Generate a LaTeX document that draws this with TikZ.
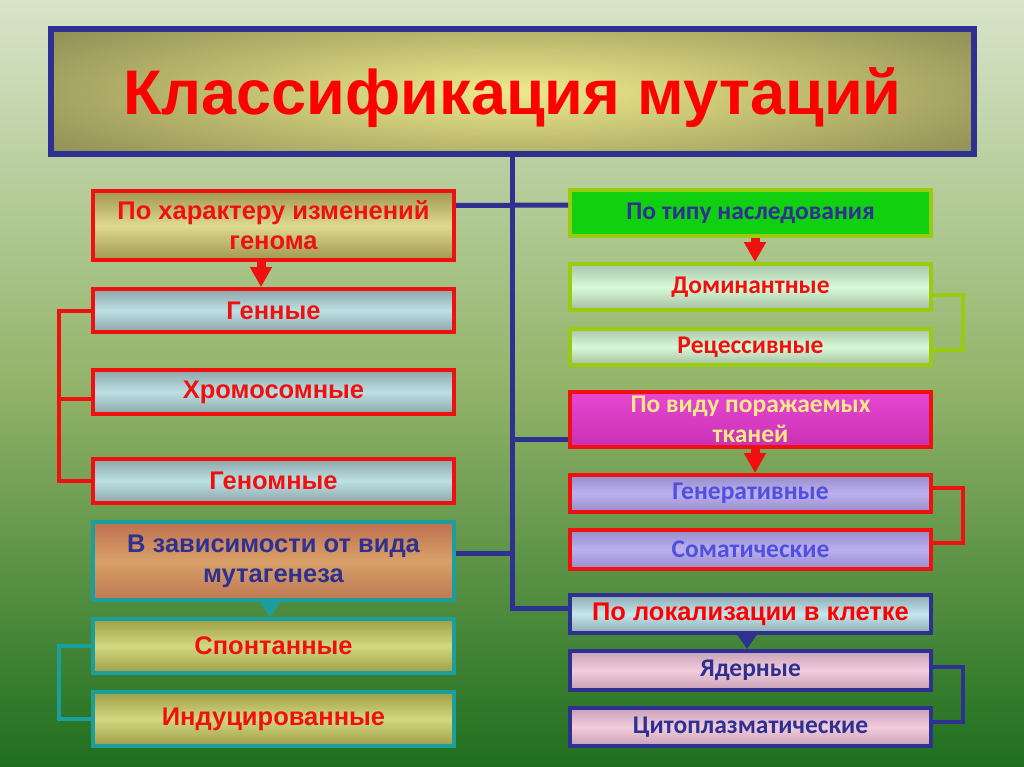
\documentclass[tikz,border=0pt]{standalone}
\usepackage{fontspec}
\usepackage{graphicx}
\usetikzlibrary{arrows.meta}
\newfontfamily\lfont{Liberation Sans}
\newfontfamily\rfont{Carlito}
\definecolor{navy}{HTML}{2E3192}
\definecolor{rd}{HTML}{F01010}
\definecolor{tred}{HTML}{FF0000}
\definecolor{teal2}{HTML}{1A9E9E}
\definecolor{lime2}{HTML}{99CC11}
\definecolor{bgtop}{HTML}{D8E4C9}
\definecolor{bgmid}{HTML}{93B46A}
\definecolor{bgbot}{HTML}{1E6E1E}
\definecolor{tO}{HTML}{727244}
\definecolor{tY}{HTML}{EEEA8C}
\definecolor{oliveE}{RGB}{160,150,84}
\definecolor{oliveM}{RGB}{222,218,142}
\definecolor{blueE}{RGB}{140,165,168}
\definecolor{blueM}{RGB}{188,224,228}
\definecolor{brownT}{RGB}{190,112,80}
\definecolor{brownM}{RGB}{216,160,104}
\definecolor{brownB}{RGB}{190,120,84}
\definecolor{yolE}{RGB}{158,158,70}
\definecolor{yolM}{RGB}{210,216,128}
\definecolor{grn}{RGB}{16,208,16}
\definecolor{pgT}{RGB}{170,196,170}
\definecolor{pgM}{RGB}{216,250,216}
\definecolor{pgB}{RGB}{165,190,160}
\definecolor{magT}{RGB}{232,70,210}
\definecolor{magB}{RGB}{200,50,180}
\definecolor{pyel}{RGB}{248,232,138}
\definecolor{lavE}{RGB}{150,140,200}
\definecolor{lavM}{RGB}{188,176,240}
\definecolor{lavT}{RGB}{80,80,224}
\definecolor{cyE}{RGB}{140,170,176}
\definecolor{cyM}{RGB}{196,230,238}
\definecolor{pkE}{RGB}{200,160,184}
\definecolor{pkM}{RGB}{242,204,218}
\tikzset{
  box/.style={draw, line width=4pt, minimum width=361pt, align=center, inner sep=0pt},
  lbox/.style={box, font=\lfont\bfseries\fontsize{25.5}{30}\selectfont},
  rbox/.style={box, font=\rfont\bfseries\fontsize{25.5}{30}\selectfont},
  band/.style n args={2}{top color=#1, bottom color=#1, middle color=#2},
  trunk/.style={navy, line width=5pt},
  brk/.style={line width=4pt, #1},
  arr/.style={line width=9pt, #1, -{Triangle[width=21pt,length=20pt]}},
  sarr/.style={line width=9pt, #1, -{Triangle[width=21pt,length=16pt]}},
}
\begin{document}
\begin{tikzpicture}[x=1pt,y=-1pt]
\useasboundingbox (0,0) rectangle (1024,767);
\fill[top color=bgtop, bottom color=bgbot, middle color=bgmid] (0,0) rectangle (1024,767);
% title
\node[draw=navy, line width=6pt, minimum width=923pt, minimum height=125pt, fill=tO, inner sep=0pt,
  text height=47pt, text depth=0pt, text=tred, font=\lfont\bfseries\fontsize{63}{63}\selectfont,
  path picture={\shade[inner color=tY, outer color=tO] (path picture bounding box.center) ellipse [x radius=770, y radius=132];}] (title) at (512.5,91.5)
  {Классификация мутаций};
\coordinate (T) at (title.south);
% left column
\node[lbox, draw=rd, text=rd, minimum height=69pt, band={oliveE}{oliveM}] (L1) at (273.5,225.5) {По характеру изменений\\генома};
\node[lbox, draw=rd, text=rd, minimum height=43pt, band={blueE}{blueM}] (L2) at (273.5,310.5) {Генные};
\node[lbox, draw=rd, text=rd, minimum height=44pt, band={blueE}{blueM}] (L3) at (273.5,392) {Хромосомные};
\node[lbox, draw=rd, text=rd, minimum height=44pt, band={blueE}{blueM}] (L4) at (273.5,481) {Геномные};
\node[lbox, draw=teal2, text=navy, minimum height=78pt, top color=brownT, bottom color=brownB, middle color=brownM] (L5) at (273.5,561) {В зависимости от вида\\мутагенеза};
\node[lbox, draw=teal2, text=rd, minimum height=54pt, band={yolE}{yolM}] (L6) at (273.5,646) {Спонтанные};
\node[lbox, draw=teal2, text=rd, minimum height=54pt, band={yolE}{yolM}] (L7) at (273.5,719) {Индуцированные};
% right column
\node[rbox, draw=lime2, text=navy, minimum height=46pt, fill=grn] (R1) at (750.5,213) {По типу наследования};
\node[rbox, draw=lime2, text=rd, minimum height=46pt, top color=pgT, bottom color=pgB, middle color=pgM] (R2) at (750.5,287) {Доминантные};
\node[rbox, draw=lime2, text=rd, minimum height=36pt, top color=pgT, bottom color=pgB, middle color=pgM] (R3) at (750.5,347) {Рецессивные};
\node[rbox, draw=rd, text=pyel, minimum height=55pt, top color=magT, bottom color=magB] (R4) at (750.5,419.5) {По виду поражаемых\\тканей};
\node[rbox, draw=rd, text=lavT, minimum height=37pt, band={lavE}{lavM}] (R5) at (750.5,493.5) {Генеративные};
\node[rbox, draw=rd, text=lavT, minimum height=39pt, band={lavE}{lavM}] (R6) at (750.5,549.5) {Соматические};
\node[rbox, draw=navy, text=tred, minimum height=38pt, font=\lfont\bfseries\fontsize{25.5}{30}\selectfont, band={cyE}{cyM}] (R7) at (750.5,614) {По локализации в клетке};
\node[rbox, draw=navy, text=navy, minimum height=39pt, band={pkE}{pkM}] (R8) at (750.5,670.5) {Ядерные};
\node[rbox, draw=navy, text=navy, minimum height=38pt, band={pkE}{pkM}] (R9) at (750.5,727) {Цитоплазматические};
% trunk and branches
\draw[trunk] (T) |- ([yshift=6pt]R7.west);
\draw[trunk] ([yshift=20pt]L1.east) -- ([yshift=8pt]R1.west);
\draw[trunk] ([yshift=-20pt]R4.west) -- ([yshift=-20pt]R4.west -| T);
\draw[trunk] ([yshift=8pt]L5.east) -- ([yshift=8pt]L5.east -| T);
% brackets
\draw[brk=rd] (L2.west) -- ++(-32,0) |- (L4.west);
\draw[brk=rd] ([yshift=-7pt]L3.west) -- ++(-32,0);
\draw[brk=teal2] (L6.west) -- ++(-32,0) |- (L7.west);
\draw[brk=lime2] ([yshift=-8pt]R2.east) -- ++(30,0) |- ([yshift=-3pt]R3.east);
\draw[brk=rd] ([yshift=5.5pt]R5.east) -- ++(30,0) |- ([yshift=6.5pt]R6.east);
\draw[brk=navy] ([yshift=3.5pt]R8.east) -- ++(30,0) |- ([yshift=5pt]R9.east);
% arrows
\draw[arr=rd] ([xshift=-12.5pt]L1.south) -- ([xshift=-12.5pt]L2.north);
\draw[sarr=teal2] ([xshift=-3.5pt]L5.south) -- ([xshift=-3.5pt]L6.north);
\draw[arr=rd] ([xshift=4.5pt]R1.south) -- ([xshift=4.5pt]R2.north);
\draw[arr=rd] ([xshift=4.5pt]R4.south) -- ([xshift=4.5pt]R5.north);
\draw[sarr=navy] ([xshift=-3.5pt]R7.south) -- ([xshift=-3.5pt]R8.north);
\end{tikzpicture}
\end{document}
